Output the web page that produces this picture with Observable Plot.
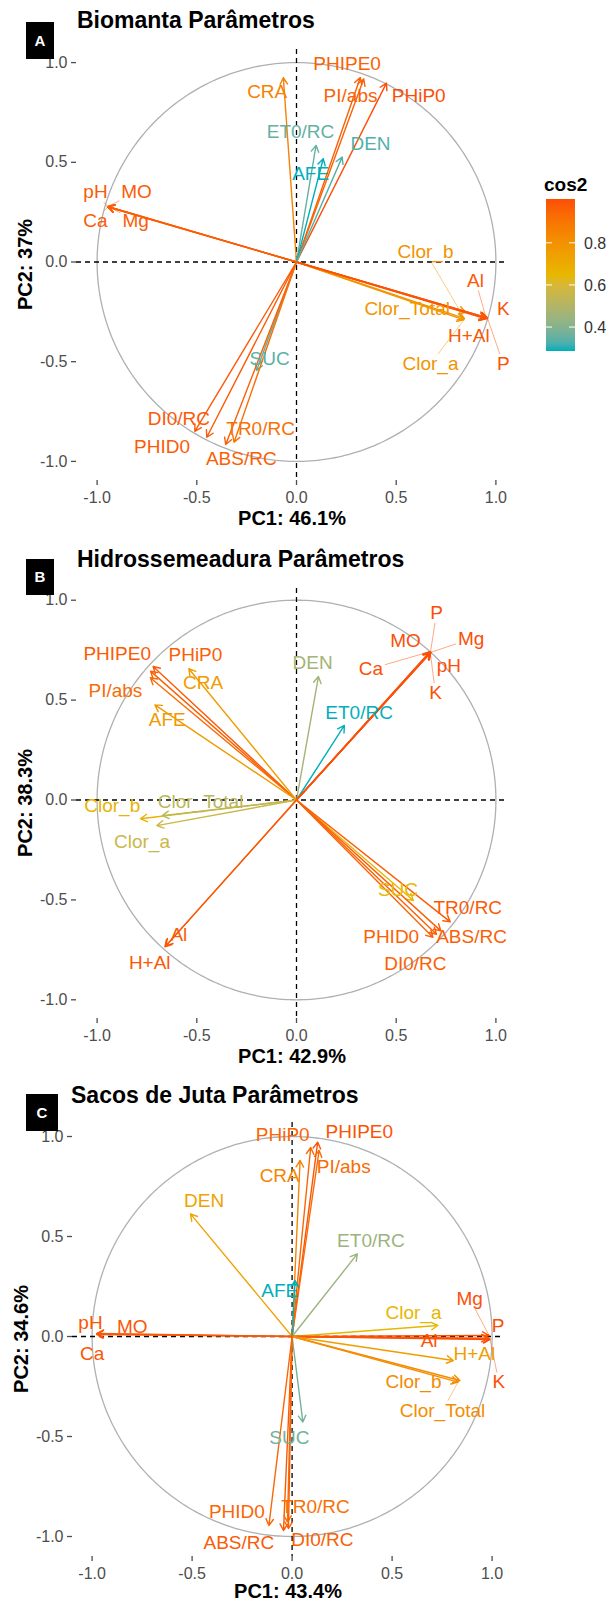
<!DOCTYPE html>
<html>
<head>
<meta charset="utf-8">
<script src="https://cdn.jsdelivr.net/npm/d3@7"></script>
<script src="https://cdn.jsdelivr.net/npm/@observablehq/plot@0.6"></script>
<style>
  html, body { margin: 0; padding: 0; background: #fff; }
  #root { position: relative; width: 608px; height: 1602px; overflow: hidden; background: #fff; }
  .panel { position: absolute; left: 0; width: 608px; }
  .panel svg { display: block; overflow: visible; }
</style>
</head>
<body>
<div id="root"></div>
<script>
const FONT = '"Liberation Sans", Arial, Helvetica, sans-serif';
const gradientColors = ["#00AFBB", "#E7B800", "#FC4E07"];
const axisTicks = [-1, -0.5, 0, 0.5, 1];
const legendTitle = "cos2";
const legendTicks = [0.4, 0.6, 0.8];

// ---------------- Panel A : Biomanta ----------------
const titleA = "Biomanta Parâmetros";
const tagA = "A";
const pc1TitleA = "PC1: 46.1%";
const pc2TitleA = "PC2: 37%";
const varsA = ["CRA","PHIPE0","PI/abs","PHiP0","ET0/RC","AFE","DEN","pH","MO","Ca","Mg",
  "Clor_b","Clor_Total","Clor_a","H+Al","Al","K","P","SUC","DI0/RC","PHID0","ABS/RC","TR0/RC"];
const pc1A = [-0.066, 0.320, 0.337, 0.451, 0.098, 0.134, 0.229, -0.948, -0.946, -0.947, -0.945,
  0.842, 0.849, 0.840, 0.950, 0.950, 0.957, 0.958, -0.200, -0.510, -0.450, -0.355, -0.313];
const pc2A = [0.924, 0.925, 0.918, 0.897, 0.585, 0.518, 0.526, 0.278, 0.279, 0.276, 0.277,
  -0.283, -0.252, -0.290, -0.285, -0.278, -0.280, -0.283, -0.544, -0.849, -0.879, -0.915, -0.904];
// label anchors (repelled label placement), data units
const labelAtA = {
  "CRA": [-0.147, 0.852], "PHIPE0": [0.254, 0.994], "PI/abs": [0.271, 0.835], "PHiP0": [0.613, 0.835],
  "ET0/RC": [0.020, 0.651], "AFE": [0.071, 0.442], "DEN": [0.371, 0.593],
  "pH": [-1.008, 0.350], "MO": [-0.802, 0.350], "Ca": [-1.008, 0.208], "Mg": [-0.807, 0.208],
  "Clor_b": [0.647, 0.049], "Clor_Total": [0.555, -0.235], "Clor_a": [0.672, -0.511],
  "H+Al": [0.864, -0.369], "Al": [0.898, -0.093], "K": [1.037, -0.235], "P": [1.037, -0.511],
  "SUC": [-0.135, -0.485], "DI0/RC": [-0.590, -0.786], "PHID0": [-0.674, -0.929],
  "ABS/RC": [-0.277, -0.990], "TR0/RC": [-0.180, -0.837]
};
const segmentedA = ["pH","MO","Ca","Mg","Clor_b","Al","P","Clor_a"];

// ---------------- Panel B : Hidrossemeadura ----------------
const titleB = "Hidrossemeadura Parâmetros";
const tagB = "B";
const pc1TitleB = "PC1: 42.9%";
const pc2TitleB = "PC2: 38.3%";
const varsB = ["PHIPE0","PHiP0","PI/abs","CRA","AFE","DEN","ET0/RC","P","MO","Mg","pH","K","Ca",
  "Clor_b","Clor_Total","Clor_a","Al","H+Al","SUC","TR0/RC","ABS/RC","PHID0","DI0/RC"];
const pc1B = [-0.719, -0.732, -0.733, -0.540, -0.710, 0.110, 0.240, 0.672, 0.670, 0.674, 0.673, 0.671, 0.669,
  -0.782, -0.673, -0.700, -0.655, -0.660, 0.586, 0.771, 0.724, 0.684, 0.702];
const pc2B = [0.668, 0.645, 0.612, 0.657, 0.476, 0.618, 0.373, 0.740, 0.741, 0.739, 0.738, 0.737, 0.742,
  -0.094, -0.078, -0.128, -0.730, -0.735, -0.503, -0.610, -0.655, -0.687, -0.672];
const labelAtB = {
  "PHIPE0": [-0.899, 0.732], "PHiP0": [-0.507, 0.728], "PI/abs": [-0.908, 0.548], "CRA": [-0.468, 0.585],
  "AFE": [-0.648, 0.403], "DEN": [0.081, 0.685], "ET0/RC": [0.314, 0.436],
  "P": [0.702, 0.935], "MO": [0.547, 0.795], "Mg": [0.876, 0.807], "pH": [0.764, 0.673],
  "K": [0.697, 0.535], "Ca": [0.373, 0.657],
  "Clor_b": [-0.924, -0.028], "Clor_Total": [-0.481, -0.011], "Clor_a": [-0.775, -0.211],
  "Al": [-0.590, -0.673], "H+Al": [-0.736, -0.817], "SUC": [0.509, -0.449],
  "TR0/RC": [0.859, -0.542], "ABS/RC": [0.878, -0.683], "PHID0": [0.475, -0.683], "DI0/RC": [0.596, -0.820]
};
const segmentedB = ["P","Mg","Ca","K"];

// ---------------- Panel C : Sacos de Juta ----------------
const titleC = "Sacos de Juta Parâmetros";
const tagC = "C";
const pc1TitleC = "PC1: 43.4%";
const pc2TitleC = "PC2: 34.6%";
const varsC = ["PHIPE0","PHiP0","PI/abs","CRA","DEN","ET0/RC","AFE","Clor_a","pH","MO","Ca","P","Mg","K",
  "Al","H+Al","Clor_b","Clor_Total","SUC","PHID0","ABS/RC","TR0/RC","DI0/RC"];
const pc1C = [0.128, 0.093, 0.135, 0.040, -0.508, 0.326, 0.015, 0.729, -0.977, -0.975, -0.978, 0.989, 0.985, 0.990,
  0.980, 0.806, 0.839, 0.830, 0.054, -0.116, -0.043, -0.023, -0.018];
const pc2C = [0.972, 0.945, 0.930, 0.880, 0.613, 0.413, 0.280, 0.055, 0.013, 0.015, 0.010, -0.012, 0.005, -0.015,
  -0.008, -0.120, -0.220, -0.228, -0.428, -0.945, -0.970, -0.928, -0.960];
const labelAtC = {
  "PHiP0": [-0.047, 1.010], "PHIPE0": [0.336, 1.025], "PI/abs": [0.258, 0.850], "CRA": [-0.062, 0.805],
  "DEN": [-0.440, 0.680], "ET0/RC": [0.394, 0.480], "AFE": [-0.062, 0.230], "Mg": [0.888, 0.189],
  "Clor_a": [0.607, 0.117], "pH": [-1.008, 0.067], "MO": [-0.799, 0.047], "P": [1.030, 0.055],
  "Ca": [-1.000, -0.087], "Al": [0.685, -0.024], "H+Al": [0.911, -0.087], "K": [1.034, -0.229],
  "Clor_b": [0.607, -0.229], "Clor_Total": [0.752, -0.370], "SUC": [-0.014, -0.507],
  "PHID0": [-0.276, -0.879], "TR0/RC": [0.117, -0.854], "ABS/RC": [-0.266, -1.034], "DI0/RC": [0.151, -1.017]
};
const segmentedC = ["pH","Mg","K","Clor_Total"];

// ---------------- layout (pixels) ----------------
const layouts = [
  {top: 0,    height: 538, fl: 76, fr: 508, ft: 49, fb: 480, x0: 296,   ux: 199.4, y0: 261.5, uy: 199.4,
   titleX: 77, titleY: 20,   tag: {x: 26, y: 22, w: 28, h: 37}, yTitleX: 25,   xTitleY: 518},
  {top: 538,  height: 537, fl: 76, fr: 508, ft: 50, fb: 480, x0: 296,   ux: 199.4, y0: 261.5, uy: 199.8,
   titleX: 77, titleY: 20.3, tag: {x: 26, y: 21, w: 28, h: 36}, yTitleX: 25,   xTitleY: 518},
  {top: 1075, height: 527, fl: 72, fr: 504, ft: 47, fb: 481, x0: 291.6, ux: 200,   y0: 261,   uy: 200,
   titleX: 71, titleY: 20,   tag: {x: 26, y: 19, w: 32, h: 37}, yTitleX: 21.3, xTitleY: 515.5}
];

const panels = [
  {title: titleA, tag: tagA, xt: pc1TitleA, yt: pc2TitleA, vars: varsA, pc1: pc1A, pc2: pc2A, labelAt: labelAtA, segmented: segmentedA, legend: true},
  {title: titleB, tag: tagB, xt: pc1TitleB, yt: pc2TitleB, vars: varsB, pc1: pc1B, pc2: pc2B, labelAt: labelAtB, segmented: segmentedB, legend: false},
  {title: titleC, tag: tagC, xt: pc1TitleC, yt: pc2TitleC, vars: varsC, pc1: pc1C, pc2: pc2C, labelAt: labelAtC, segmented: segmentedC, legend: false}
];

// correlation circle (reference guide)
const circle = d3.range(0, 361, 1).map(a => ({cx: Math.cos(a * Math.PI / 180), cy: Math.sin(a * Math.PI / 180)}));

const LABEL_SIZE = 19;
const ctx = document.createElement("canvas").getContext("2d");
ctx.font = `${LABEL_SIZE}px ${FONT}`;

function segmentFor(d, L) {
  const px = L.x0 + d.x * L.ux, py = L.y0 - d.y * L.uy;
  const lx = L.x0 + d.lx * L.ux, ly = L.y0 - d.ly * L.uy;
  const hw = ctx.measureText(d.name).width / 2 + 2;
  const hh = LABEL_SIZE * 0.72 / 2 + 3;
  const dx = px - lx, dy = py - ly;
  const t = Math.min(dx ? hw / Math.abs(dx) : Infinity, dy ? hh / Math.abs(dy) : Infinity);
  if (!(t < 0.92)) return null;
  return {...d, sx: d.lx + (d.x - d.lx) * t, sy: d.ly + (d.y - d.ly) * t};
}

const root = document.getElementById("root");

panels.forEach((P, k) => {
  const L = layouts[k];
  const data = P.vars.map((name, i) => ({
    name, x: P.pc1[i], y: P.pc2[i],
    cos2: P.pc1[i] * P.pc1[i] + P.pc2[i] * P.pc2[i],
    lx: P.labelAt[name][0], ly: P.labelAt[name][1]
  }));
  const [lo, hi] = d3.extent(data, d => d.cos2);
  const segs = data.filter(d => P.segmented.includes(d.name)).map(d => segmentFor(d, L)).filter(Boolean);

  const chart = Plot.plot({
    width: 608,
    height: L.height,
    marginLeft: L.fl,
    marginRight: 608 - L.fr,
    marginTop: L.ft,
    marginBottom: L.height - L.fb,
    style: {fontFamily: FONT, background: "transparent", overflow: "visible"},
    x: {domain: [-1, 1], range: [L.x0 - L.ux, L.x0 + L.ux]},
    y: {domain: [-1, 1], range: [L.y0 + L.uy, L.y0 - L.uy]},
    color: {type: "linear", domain: [lo, (lo + hi) / 2, hi], range: gradientColors, interpolate: "lab"},
    marks: [
      Plot.line(circle, {x: "cx", y: "cy", stroke: "#B0B0B0", strokeWidth: 1.3}),
      Plot.ruleY([0], {stroke: "#000", strokeWidth: 1.3, strokeDasharray: "5,4"}),
      Plot.ruleX([0], {stroke: "#000", strokeWidth: 1.3, strokeDasharray: "5,4"}),
      Plot.axisX({ticks: axisTicks, tickFormat: d => d.toFixed(1), tickSize: 5, tickPadding: 6,
        fontSize: 16, color: "#4D4D4D", strokeWidth: 1.3, label: null}),
      Plot.axisY({ticks: axisTicks, tickFormat: d => d.toFixed(1), tickSize: 5, tickPadding: 4,
        fontSize: 16, color: "#4D4D4D", strokeWidth: 1.3, label: null}),
      Plot.link(segs, {x1: "sx", y1: "sy", x2: "x", y2: "y", stroke: "cos2", strokeWidth: 0.9, strokeOpacity: 0.55}),
      Plot.arrow(data, {x1: () => 0, y1: () => 0, x2: "x", y2: "y", stroke: "cos2", strokeWidth: 1.4, headLength: 8}),
      Plot.text(data, {x: "lx", y: "ly", text: "name", fill: "cos2", fontSize: LABEL_SIZE})
    ]
  });

  const holder = document.createElement("div");
  holder.className = "panel";
  holder.style.top = L.top + "px";
  holder.style.height = L.height + "px";
  holder.appendChild(chart);
  root.appendChild(holder);

  const svg = d3.select(chart);
  const g = svg.append("g").attr("font-family", FONT).attr("text-anchor", "start");

  // title
  g.append("text").attr("x", L.titleX).attr("y", L.titleY + 0.358 * 23).attr("text-anchor", "start")
    .attr("font-size", 23).attr("font-weight", "bold").attr("fill", "#000").text(P.title);
  // axis titles
  g.append("text").attr("x", (L.fl + L.fr) / 2).attr("y", L.xTitleY + 0.358 * 20)
    .attr("text-anchor", "middle").attr("font-size", 20).attr("font-weight", "bold").attr("fill", "#000").text(P.xt);
  g.append("text").attr("transform", `translate(${L.yTitleX},${(L.ft + L.fb) / 2}) rotate(-90)`)
    .attr("y", 0.358 * 20).attr("text-anchor", "middle").attr("font-size", 20).attr("font-weight", "bold")
    .attr("fill", "#000").text(P.yt);
  // panel tag
  g.append("rect").attr("x", L.tag.x).attr("y", L.tag.y).attr("width", L.tag.w).attr("height", L.tag.h).attr("fill", "#000");
  g.append("text").attr("x", L.tag.x + L.tag.w / 2).attr("y", L.tag.y + L.tag.h / 2 + 0.358 * 15)
    .attr("text-anchor", "middle").attr("font-size", 15).attr("font-weight", "bold").attr("fill", "#fff").text(P.tag);

  if (P.legend) {
    const cs = chart.scale("color");
    const bar = {x: 546, y: 199, w: 29, h: 152};
    const gradId = "cos2grad";
    const grad = svg.append("defs").append("linearGradient").attr("id", gradId)
      .attr("x1", 0).attr("y1", 1).attr("x2", 0).attr("y2", 0);
    d3.range(0, 1.0001, 0.05).forEach(t => {
      grad.append("stop").attr("offset", t).attr("stop-color", cs.apply(lo + t * (hi - lo)));
    });
    const lg = svg.append("g").attr("font-family", FONT).attr("text-anchor", "start");
    lg.append("text").attr("x", 544).attr("y", 184 + 0.358 * 19).attr("text-anchor", "start")
      .attr("font-size", 19).attr("font-weight", "bold").attr("fill", "#000").text(legendTitle);
    lg.append("rect").attr("x", bar.x).attr("y", bar.y).attr("width", bar.w).attr("height", bar.h)
      .attr("fill", `url(#${gradId})`);
    const ly = v => bar.y + (hi - v) / (hi - lo) * bar.h;
    legendTicks.forEach(v => {
      const yy = ly(v);
      lg.append("line").attr("x1", bar.x).attr("x2", bar.x + 6).attr("y1", yy).attr("y2", yy).attr("stroke", "#fff").attr("stroke-width", 1);
      lg.append("line").attr("x1", bar.x + bar.w - 6).attr("x2", bar.x + bar.w).attr("y1", yy).attr("y2", yy).attr("stroke", "#fff").attr("stroke-width", 1);
      lg.append("text").attr("x", 584).attr("y", yy + 0.358 * 16).attr("text-anchor", "start")
        .attr("font-size", 16).attr("fill", "#333").text(v.toFixed(1));
    });
  }
});
</script>
</body>
</html>
